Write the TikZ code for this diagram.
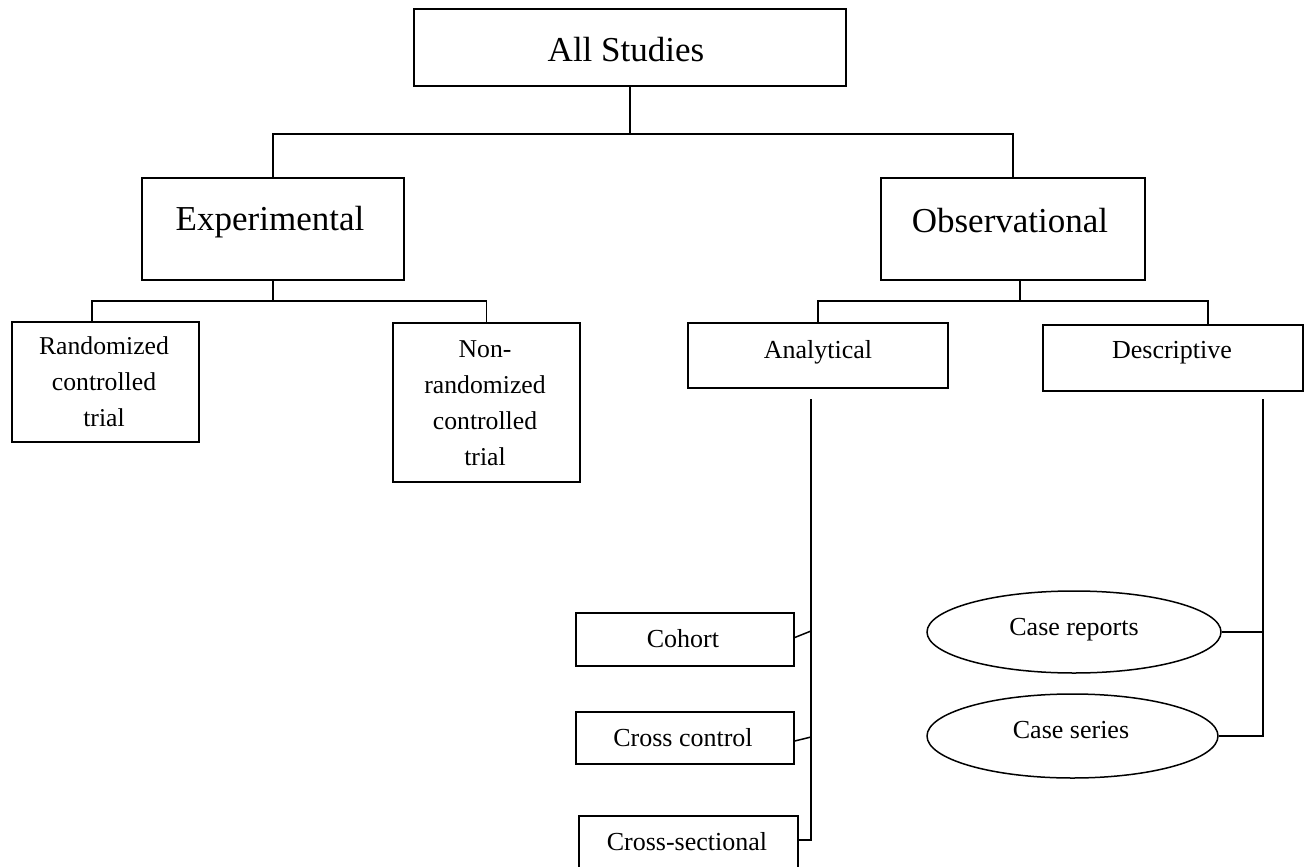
\documentclass[tikz,border=0pt]{standalone}
\usepackage{fontspec}
\setmainfont{Liberation Serif}
\usetikzlibrary{shapes.geometric}
\begin{document}
\begin{tikzpicture}[x=1pt,y=-1pt,
  box/.style={draw, rectangle, inner sep=0pt, line width=1.5pt},
  oval/.style={draw, ellipse, inner sep=0pt, line width=1.5pt},
  big/.style={font=\fontsize{35}{42}\selectfont, anchor=base, inner sep=0pt},
  small/.style={font=\fontsize{26}{36}\selectfont, anchor=base, inner sep=0pt},
  multi/.style={font=\fontsize{25.7}{36}\selectfont, align=center, inner sep=0pt},
  link/.style={line width=1.5pt}]
\useasboundingbox (0,0) rectangle (1309,867);
\fill[white] (0,0) rectangle (1309,867);
% boxes
\node[box, minimum width=432pt, minimum height=77pt] (all) at (630,47.5) {};
\node[box, minimum width=262pt, minimum height=102pt] (exp) at (273,229) {};
\node[box, minimum width=264pt, minimum height=102pt] (obs) at (1013,229) {};
\node[box, minimum width=187pt, minimum height=120pt] (rct) at (105.5,382) {};
\node[box, minimum width=187pt, minimum height=159pt] (nrct) at (486.5,402.5) {};
\node[box, minimum width=260pt, minimum height=65pt] (ana) at (818,355.5) {};
\node[box, minimum width=260pt, minimum height=66pt] (desc) at (1173,358) {};
\node[box, minimum width=218pt, minimum height=53pt] (coh) at (685,639.5) {};
\node[box, minimum width=218pt, minimum height=52pt] (cc) at (685,738) {};
\node[box, minimum width=219pt, minimum height=59pt] (csec) at (688.5,845.5) {};
\node[oval, minimum width=294pt, minimum height=82pt] (crep) at (1074,632) {};
\node[oval, minimum width=291pt, minimum height=84pt] (cser) at (1072.5,736) {};
% texts
\node[big] (allt) at (626,62) {All Studies};
\node[big] (expt) at (270,230) {Experimental};
\node[big] (obst) at (1010,232) {Observational};
\node[multi] (rctt) at (104,382) {Randomized\\controlled\\trial};
\node[multi] (nrctt) at (485,403) {Non-\\randomized\\controlled\\trial};
\node[small] (anat) at (818,358) {Analytical};
\node[small] (desct) at (1172,358) {Descriptive};
\node[small] (coht) at (683,647) {Cohort};
\node[small] (cct) at (683,746) {Cross control};
\node[small] (csect) at (687,850) {Cross-sectional};
\node[small] (crept) at (1074,635) {Case reports};
\node[small] (csert) at (1071,738) {Case series};
% connectors
\draw[link] (all.south) -- ++(0,47) coordinate (top) -| (exp.north);
\draw[link] (top) -| (obs.north);
\draw[link] (exp.south) -- ++(0,20) coordinate (eh) -| ([xshift=-13.5pt]rct.north);
\draw[link] (eh) -| (nrct.north);
\draw[link] ([xshift=7pt]obs.south) -- ++(0,20) coordinate (oh) -| (ana.north);
\draw[link] (oh) -| ([xshift=35pt]desc.north);
\coordinate (a1) at (811,399);
\coordinate (a2) at (811,840);
\coordinate (a3) at (811,631);
\coordinate (a4) at (811,737);
\draw[link] (a1) -- (a2) -- (a2 -| csec.east);
\draw[link] ([yshift=2pt]coh.east) -- (a3);
\draw[link] ([yshift=-3pt]cc.east) -- (a4);
\coordinate (d1) at (1263,399);
\coordinate (d2) at (1263,632);
\coordinate (d3) at (1263,736);
\draw[link] (d1) -- (d3) -- (cser.east);
\draw[link] (crep.east) -- (d2);
\end{tikzpicture}
\end{document}
